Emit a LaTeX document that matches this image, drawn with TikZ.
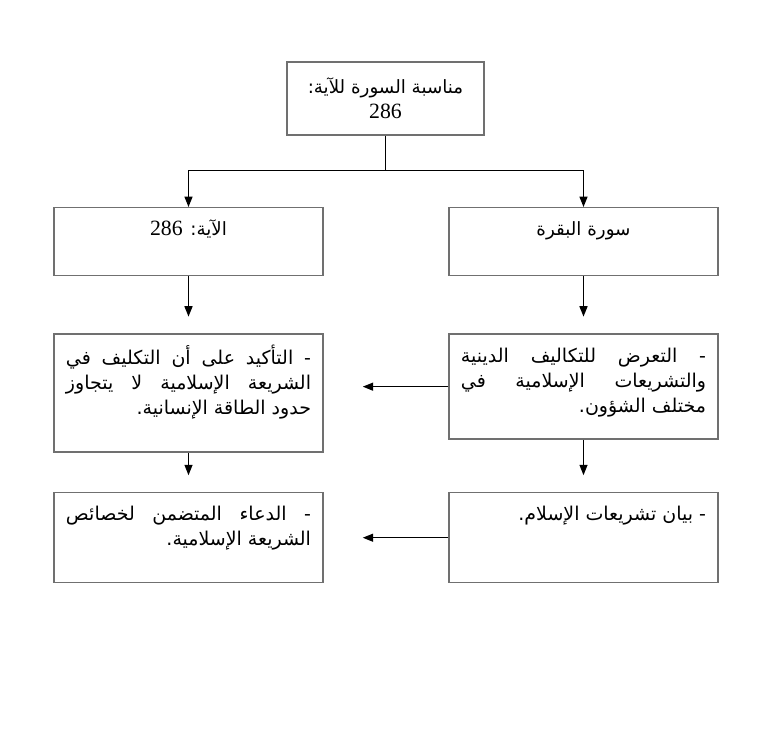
\documentclass[tikz,border=0pt]{standalone}
\usepackage{fontspec}
\setmainfont{Liberation Serif}
\newfontfamily\arabicfont[Script=Arabic]{DejaVu Sans}
\TeXXeTstate=1
\usetikzlibrary{arrows.meta,positioning}
\definecolor{frame}{HTML}{707070}
\definecolor{ink}{HTML}{000000}
% one line of a right-to-left block: justified, flush right, centred
\newcommand{\rjust}[1]{\hbox to\hsize{\strut\beginR #1\endR}}
\newcommand{\rlast}[1]{\hbox to\hsize{\strut\hfill\beginR #1\endR}}
\newcommand{\rmid}[1]{\hbox to\hsize{\strut\hfill\beginR #1\endR\hfill}}
\newcommand{\cellbox}[2]{\parbox[t][#1][t]{6.125cm}{\arabicfont\fontsize{13.5}{17.8}\selectfont #2}}
\tikzset{
  titlebox/.style={draw=frame,line width=1pt,minimum width=4.925cm,minimum height=1.825cm,
    align=center,inner sep=0pt,font=\fontsize{15.5}{18}\selectfont},
  cell/.style={draw=frame,line width=1pt,anchor=north,inner xsep=0.3cm,inner ysep=0.26cm},
  link/.style={draw=ink,line width=0.9pt},
  arrow/.style={-{Triangle[length=0.26cm,width=0.2cm]},draw=ink,line width=0.9pt}
}
\begin{document}
\begin{tikzpicture}[x=0.025cm,y=-0.025cm]
  \useasboundingbox (0,0) rectangle (770,750);
  \node[titlebox] (topic) at (385.5,98.5) {{\arabicfont\fontsize{13}{18}\selectfont\beginR مناسبة السورة للآية:\endR}\\286};
  \node[cell] (surah) at (583.5,207) {\cellbox{1.18cm}{\fontsize{13}{17.8}\selectfont
    \rmid{سورة البقرة}}};
  \node[cell] (ayah) at (188.5,207) {\cellbox{1.18cm}{\fontsize{13}{17.8}\selectfont
    \rmid{الآية: {\rmfamily\fontsize{15.5}{17.8}\selectfont\beginL 286\endL}}}};
  \node[cell,below=1.425cm of surah] (rules) {\cellbox{2.105cm}{
    \rjust{- التعرض للتكاليف الدينية}
    \rjust{والتشريعات الإسلامية في}
    \rlast{مختلف الشؤون.}}};
  \node[cell] (emph) at (ayah |- rules.north) {\cellbox{2.43cm}{
    \rjust{- التأكيد على أن التكليف في}
    \rjust{الشريعة الإسلامية لا يتجاوز}
    \rlast{حدود الطاقة الإنسانية.}}};
  \node[cell] (law) at (583.5,492) {\cellbox{1.73cm}{
    \rlast{- بيان تشريعات الإسلام.}}};
  \node[cell] (prayer) at (ayah |- law.north) {\cellbox{1.73cm}{
    \rjust{- الدعاء المتضمن لخصائص}
    \rlast{الشريعة الإسلامية.}}};
  % split from the title
  \draw[link] (topic.south) -- ++(0,35) coordinate (split);
  \draw[arrow] (split) -| (ayah.north);
  \draw[arrow] (split) -| (surah.north);
  \foreach \a/\b in {ayah/emph,surah/rules,emph/prayer,rules/law}{\draw[arrow,shorten >=0.42cm] (\a) -- (\b);}
  \foreach \a/\b in {rules/emph,law/prayer}{\draw[arrow,shorten >=0.975cm] (\a) -- (\a -| \b.east);}
\end{tikzpicture}
\end{document}
